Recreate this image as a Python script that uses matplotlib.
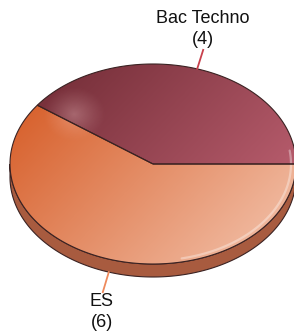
import numpy as np
import matplotlib.pyplot as plt
from matplotlib.path import Path
from matplotlib.patches import PathPatch, Polygon
from matplotlib.colors import LinearSegmentedColormap

labels = ['Bac Techno', 'ES']
counts = [4, 6]
top_colors = [('#6c2831', '#c8687a'), ('#d4541c', '#f4c6b0')]
line_colors = ['#c8404c', '#ee8a5c']
side_color = '#a85b3f'
edge_color = '#3a2222'

W, H = 294, 331
cx, cy = 153, 164
rx, ry = 143, 100
depth = 13

plt.rcParams['font.family'] = ['Liberation Sans', 'DejaVu Sans']

fig = plt.figure(figsize=(W / 100, H / 100), dpi=100)
ax = fig.add_axes([0, 0, 1, 1])
ax.set_xlim(0, W)
ax.set_ylim(H, 0)
ax.axis('off')


def pt(a, r=1.0, dz=0.0):
    return cx + rx * r * np.cos(a), cy - ry * r * np.sin(a) + dz


# side of the disc (front half only)
a = np.linspace(np.pi, 2 * np.pi, 200)
top = np.column_stack(pt(a))
bot = np.column_stack(pt(a[::-1], dz=depth))
ax.add_patch(Polygon(np.vstack([top, bot]), closed=True, fc=side_color,
                     ec=edge_color, lw=0.8, zorder=1))

# gradient grid
x0, x1 = cx - rx, cx + rx
y0, y1 = cy - ry, cy + ry
X, Y = np.meshgrid(np.linspace(x0, x1, 300), np.linspace(y0, y1, 220))
t = ((X - x0) / (x1 - x0) * 0.6 + (Y - y0) / (y1 - y0) * 0.4)
t = (t - t.min()) / (t.max() - t.min())

total = sum(counts)
start = 0.0
for lab, n, (c0, c1), lc in zip(labels, counts, top_colors, line_colors):
    span = 2 * np.pi * n / total
    ang = np.linspace(start, start + span, 200)
    verts = np.vstack([[cx, cy], np.column_stack(pt(ang)), [cx, cy]])
    path = Path(verts, closed=True)
    patch = PathPatch(path, fc='none', ec=edge_color, lw=0.8, zorder=4)
    ax.add_patch(patch)
    cmap = LinearSegmentedColormap.from_list(lab, [c0, c1])
    im = ax.imshow(t, cmap=cmap, extent=(x0, x1, y1, y0), origin='upper',
                   aspect='auto', zorder=2, interpolation='bilinear')
    im.set_clip_path(patch)

    # leader line and label
    mid = start + span / 2
    if np.sin(mid) > 0:
        px, py = pt(mid)
        ex, ey = px + 6, py - 19
        ax.plot([px, ex], [py, ey], color=lc, lw=1.3, zorder=5)
        ax.text(ex, ey - 2, f'{lab}\n({n})', ha='center', va='bottom',
                fontsize=13, linespacing=1.3, color='#111111')
    else:
        px, py = pt(mid, dz=depth)
        ex, ey = px - 6, py + 20
        ax.plot([px, ex], [py, ey], color=lc, lw=1.3, zorder=5)
        ax.text(ex - 1, ey + 1, f'{lab}\n({n})', ha='center', va='top',
                fontsize=13, linespacing=1.3, color='#111111')
    start += span

# soft highlight spot and rim shine
ell = np.column_stack(pt(np.linspace(0, 2 * np.pi, 300)))
clip = Polygon(ell, closed=True, fc='none', ec='none')
ax.add_patch(clip)
R = np.hypot((X - 74) / 32, (Y - 114) / 28)
spot = np.zeros(X.shape + (4,))
spot[..., 0] = 1.0
spot[..., 1] = 0.85
spot[..., 2] = 0.85
spot[..., 3] = np.clip(1 - R, 0, 1) ** 1.2 * 0.3
im = ax.imshow(spot, extent=(x0, x1, y1, y0), origin='upper', aspect='auto',
               zorder=3, interpolation='bilinear')
im.set_clip_path(clip)

sh = np.linspace(np.radians(-78), np.radians(8), 100)
sx, sy = pt(sh, r=0.965)
ax.plot(sx, sy, color='white', alpha=0.35, lw=1.6, zorder=3,
        solid_capstyle='round')

fig.savefig('out.png', dpi=100)
